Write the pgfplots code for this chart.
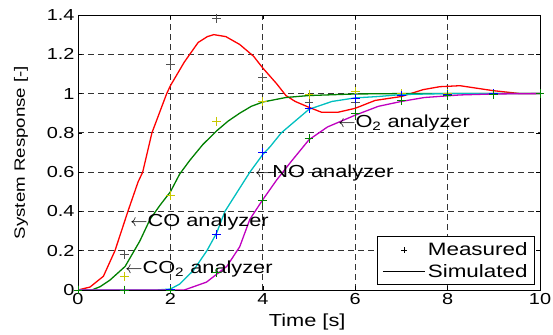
\documentclass[border=0pt]{standalone}
\usepackage{pgfplots}
\pgfplotsset{compat=1.18}
\usepackage{fontspec}
\setmainfont{Liberation Sans}[FakeStretch=1.25]
\definecolor{cogray}{RGB}{80,80,80}
\definecolor{myyellow}{RGB}{200,200,0}
\definecolor{mygreen}{RGB}{0,128,0}
\definecolor{mycyan}{RGB}{0,191,191}
\definecolor{mymag}{RGB}{191,0,191}
\begin{document}
\begin{tikzpicture}
\begin{axis}[
  scale only axis, width=462bp, height=275bp,
  xmin=0, xmax=10, ymin=0, ymax=1.4,
  xtick={0,2,4,6,8,10}, ytick={0,0.2,0.4,0.6,0.8,1,1.2,1.4},
  grid=major,
  major grid style={black!80, dash pattern=on 6bp off 4bp, line width=0.75pt},
  tick align=inside, major tick length=4bp, tick style={black, line width=0.6pt},
  axis line style={black, line width=0.7pt},
  ticklabel style={font=\fontsize{16}{18}\selectfont},
  /pgf/number format/assume math mode=true,
  xlabel={Time [s]}, ylabel={System Response [-]},
  xlabel style={font=\fontsize{17.5}{18}\selectfont, inner sep=0pt, at={(axis description cs:0.496,-0.085)}, anchor=north},
  ylabel style={font=\fontsize{15}{18}\selectfont, inner sep=0pt, at={(axis description cs:-0.108,0.5)}, anchor=south},
  legend style={draw=black, fill=white, line width=0.7pt, at={(rel axis cs:0.989,0.018)}, anchor=south east,
     font=\fontsize{18}{20}\selectfont, row sep=3bp, inner xsep=5bp, inner ysep=4bp},
  legend cell align=left,
  every axis plot/.append style={line width=1.3pt},
]
% legend images
\addlegendimage{legend image code/.code={\draw[black, line width=0.7pt] plot[mark=+, mark size=3pt] coordinates {(0.75cm,0cm)};}}
\addlegendentry{Measured}
\addlegendimage{legend image code/.code={\draw[black, line width=0.9pt] (0cm,0cm) -- (1.5cm,0cm);}}
\addlegendentry{Simulated}

% simulated
\addplot[red, no marks, forget plot] coordinates {
(0,0) (0.26,0.015) (0.55,0.07) (0.8,0.2) (1.08,0.4) (1.3,0.55) (1.4,0.6) (1.6,0.8) (1.92,1.0) (2.0,1.04)
(2.3,1.16) (2.6,1.26) (2.8,1.29) (2.94,1.30) (3.2,1.29) (3.5,1.25) (3.8,1.19) (4.0,1.13) (4.3,1.05)
(4.5,0.99) (4.7,0.96) (5.0,0.93) (5.27,0.905) (5.63,0.905) (6.0,0.925) (6.43,0.965) (7.0,0.985)
(7.47,1.02) (7.83,1.035) (8.27,1.04) (8.98,1.015) (9.57,1.0) (10,1.0)};
\addplot[mygreen, no marks, forget plot] coordinates {
(0,0) (0.3,0) (0.48,0.017) (0.69,0.05) (1.02,0.12) (1.34,0.25) (1.56,0.36) (1.77,0.43) (2.0,0.50)
(2.2,0.59) (2.42,0.66) (2.7,0.74) (3.0,0.81) (3.25,0.86) (3.5,0.90) (3.75,0.935) (4.0,0.957)
(4.5,0.98) (5,0.99) (6,0.998) (7,1.0) (10,1.0)};
\addplot[mycyan, no marks, forget plot] coordinates {
(0,0) (1.7,0) (2.0,0.005) (2.2,0.03) (2.5,0.1) (2.79,0.2) (3.0,0.29) (3.18,0.4) (3.45,0.5) (3.72,0.6)
(4.0,0.69) (4.16,0.73) (4.4,0.8) (4.7,0.86) (5.0,0.92) (5.5,0.96) (6.0,0.978) (6.5,0.985) (7,0.995)
(8,1.0) (10,1.0)};
\addplot[mymag, no marks, forget plot] coordinates {
(0,0) (2.3,0) (2.42,0.01) (2.78,0.04) (3.0,0.08) (3.22,0.12) (3.5,0.22) (3.72,0.36) (4.0,0.46)
(4.3,0.56) (4.6,0.65) (5.0,0.765) (5.4,0.83) (6.0,0.89) (6.5,0.935) (7.0,0.96) (7.5,0.98)
(8.27,0.993) (9,0.998) (10,1.0)};

% measured
\addplot[cogray, only marks, mark=+, mark size=4.5pt, line width=1pt, forget plot] coordinates {
(0,0) (1,0.18) (2,1.15) (3,1.38) (4,1.08) (5,0.955) (6,0.955) (7,0.99) (8,1.0) (9,1.0) (10,1.0)};
\addplot[myyellow, only marks, mark=+, mark size=4.5pt, line width=1pt, forget plot] coordinates {
(0,0) (1,0.07) (2,0.48) (3,0.86) (4,0.96) (5,0.995) (6,1.01) (7,1.0) (8,1.0) (9,1.0) (10,1.0)};
\addplot[blue, only marks, mark=+, mark size=4.5pt, line width=1pt, forget plot] coordinates {
(0,0) (1,0) (2,0.005) (3,0.285) (4,0.70) (5,0.925) (6,0.975) (7,0.99) (8,0.995) (9,1.0) (10,1.0)};
\addplot[mygreen, only marks, mark=+, mark size=4.5pt, line width=1pt, forget plot] coordinates {
(0,0) (1,0) (2,0) (3,0.09) (4,0.455) (5,0.77) (6,0.90) (7,0.965) (8,0.99) (9,0.995) (10,1.0)};

% annotations
\node[anchor=base west, inner sep=0pt, yshift=-5.5bp, font=\fontsize{17.5}{18}\selectfont] at (axis cs:1.13,0.35) {$\leftarrow$CO analyzer};
\node[anchor=base west, inner sep=0pt, yshift=-5.5bp, font=\fontsize{17.5}{18}\selectfont] at (axis cs:1.02,0.11) {$\leftarrow$CO\textsubscript{2} analyzer};
\node[anchor=base west, inner sep=0pt, yshift=-5.5bp, font=\fontsize{17.5}{18}\selectfont] at (axis cs:3.83,0.60) {$\leftarrow$NO analyzer};
\node[anchor=base west, inner sep=0pt, yshift=-5.5bp, font=\fontsize{17.5}{18}\selectfont] at (axis cs:5.63,0.855) {$\leftarrow$O\textsubscript{2} analyzer};

\coordinate (sw) at (rel axis cs:0,0);
\coordinate (ne) at (rel axis cs:1,1);
\end{axis}
\pgfresetboundingbox
\path ([shift={(-78bp,-45bp)}]sw) rectangle ([shift={(13bp,15bp)}]ne);
\end{tikzpicture}
\end{document}
